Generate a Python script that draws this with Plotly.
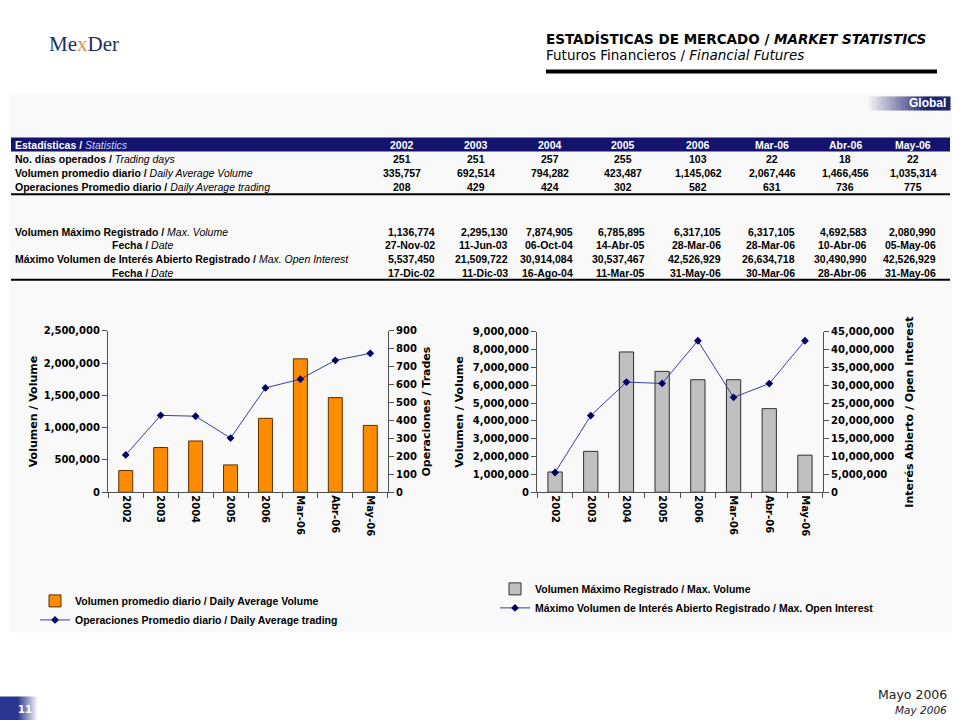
import plotly.graph_objects as go

# ---------------- data ----------------
categories = ["2002", "2003", "2004", "2005", "2006", "Mar-06", "Abr-06", "May-06"]
trading_days = [251, 251, 257, 255, 103, 22, 18, 22]
avg_volume = [335757, 692514, 794282, 423487, 1145062, 2067446, 1466456, 1035314]
avg_trades = [208, 429, 424, 302, 582, 631, 736, 775]
max_volume = [1136774, 2295130, 7874905, 6785895, 6317105, 6317105, 4692583, 2080990]
max_volume_date = ["27-Nov-02", "11-Jun-03", "06-Oct-04", "14-Abr-05",
                   "28-Mar-06", "28-Mar-06", "10-Abr-06", "05-May-06"]
max_open_interest = [5537450, 21509722, 30914084, 30537467, 42526929, 26634718, 30490990, 42526929]
max_oi_date = ["17-Dic-02", "11-Dic-03", "16-Ago-04", "11-Mar-05",
               "31-May-06", "30-Mar-06", "28-Abr-06", "31-May-06"]

W, H = 960, 727
def X(px): return px / W
def Y(py):
    ly = (py - 5.7) / 0.983
    return 1 - ly / H

NAVY = "#14146e"
LINE_C = "#3c3c9c"
MARK_C = "#000066"
CHART_FONT = "DejaVu Sans, Verdana, sans-serif"
TAB_FONT = "Liberation Sans, Arial, sans-serif"

fig = go.Figure()

fig.add_trace(go.Bar(
    x=categories, y=avg_volume, xaxis="x", yaxis="y", width=0.4,
    marker=dict(color="#FF8C00", line=dict(color="#5a3000", width=1)),
    name="Volumen promedio diario / Daily Average Volume", legend="legend"))
fig.add_trace(go.Scatter(
    x=categories, y=avg_trades, xaxis="x", yaxis="y2", mode="lines+markers",
    line=dict(color=LINE_C, width=1),
    marker=dict(symbol="diamond", size=6, color=MARK_C),
    name="Operaciones Promedio diario / Daily Average trading", legend="legend"))
fig.add_trace(go.Bar(
    x=categories, y=max_volume, xaxis="x2", yaxis="y3", width=0.4,
    marker=dict(color="#C0C0C0", line=dict(color="#303030", width=1)),
    name="Volumen Máximo Registrado / Max. Volume", legend="legend2"))
fig.add_trace(go.Scatter(
    x=categories, y=max_open_interest, xaxis="x2", yaxis="y4", mode="lines+markers",
    line=dict(color=LINE_C, width=1),
    marker=dict(symbol="diamond", size=6, color=MARK_C),
    name="Máximo Volumen de Interés Abierto Registrado / Max. Open Interest", legend="legend2"))

tickfont = dict(family=CHART_FONT, size=10, color="black", weight="bold")
titlefont = dict(family=CHART_FONT, size=11, color="black", weight="bold")
axline = "#505050"

def xax(dom, anchor):
    return dict(domain=dom, anchor=anchor, type="category", tickangle=90,
                ticks="outside", tickson="boundaries", ticklen=5, tickcolor=axline,
                showline=True, linecolor=axline, linewidth=1, showgrid=False,
                tickfont=tickfont, fixedrange=True)

def yax(dom, anchor, rng, dtick, title, side="left", overlaying=None, standoff=6):
    d = dict(domain=dom, anchor=anchor, range=rng, dtick=dtick, tickformat=",d",
             ticks="outside", ticklen=5, tickcolor=axline, showline=True,
             linecolor=axline, linewidth=1, showgrid=False, zeroline=False,
             tickfont=tickfont, side=side, fixedrange=True,
             title=dict(text=title, font=titlefont, standoff=standoff))
    if overlaying:
        d["overlaying"] = overlaying
    return d

ydom1 = [Y(492), Y(331)]
ydom2 = [Y(492), Y(332)]

legfont = dict(family=TAB_FONT, size=10.5, color="black", weight="bold")
layout = dict(
    width=W, height=H, margin=dict(l=0, r=0, t=0, b=0),
    paper_bgcolor="white", plot_bgcolor="rgba(0,0,0,0)",
    bargap=0.6, showlegend=True,
    xaxis=xax([X(108), X(388)], "y"),
    yaxis=yax(ydom1, "x", [0, 2500000], 500000, "Volumen / Volume", standoff=3),
    yaxis2=yax(ydom1, "x", [0, 900], 100, "Operaciones / Trades", side="right", overlaying="y"),
    xaxis2=xax([X(537), X(823)], "y3"),
    yaxis3=yax(ydom2, "x2", [0, 9000000], 1000000, "Volumen / Volume"),
    yaxis4=yax(ydom2, "x2", [0, 45000000], 5000000, "Interés Abierto / Open Interest",
               side="right", overlaying="y3", standoff=12),
    legend=dict(x=X(35), y=Y(586), xanchor="left", yanchor="top",
                bgcolor="rgba(0,0,0,0)", tracegroupgap=0, itemwidth=30, font=legfont),
    legend2=dict(x=X(495), y=Y(574), xanchor="left", yanchor="top",
                 bgcolor="rgba(0,0,0,0)", tracegroupgap=0, itemwidth=30, font=legfont),
)
fig.update_layout(**layout)

shapes = []
# light panel
shapes.append(dict(type="rect", xref="paper", yref="paper", x0=X(10), x1=X(952),
                   y0=Y(632), y1=Y(95), fillcolor="#f9f9f9", line=dict(width=0), layer="below"))
# header thick line
shapes.append(dict(type="line", xref="paper", yref="paper", x0=X(546), x1=X(937),
                   y0=Y(72), y1=Y(72), line=dict(color="black", width=4)))
# Global tab gradient
n = 28
x_start, x_end = 866, 950
c0 = (249, 249, 249)
c1 = (28, 36, 112)
for i in range(n):
    t = i / (n - 1)
    t2 = min(1.0, t * 1.35)
    col = tuple(int(c0[k] + (c1[k] - c0[k]) * t2) for k in range(3))
    xa = x_start + (x_end - x_start) * i / n
    xb = x_start + (x_end - x_start) * (i + 1) / n
    shapes.append(dict(type="rect", xref="paper", yref="paper", x0=X(xa), x1=X(xb) + 0.0005,
                       y0=Y(111), y1=Y(97), fillcolor="rgb(%d,%d,%d)" % col, line=dict(width=0)))
# table header band
shapes.append(dict(type="rect", xref="paper", yref="paper", x0=X(11), x1=X(950),
                   y0=Y(152), y1=Y(138), fillcolor=NAVY, line=dict(width=0)))
# table rules
for yy in (194.5, 280):
    shapes.append(dict(type="line", xref="paper", yref="paper", x0=X(11), x1=X(950),
                       y0=Y(yy), y1=Y(yy), line=dict(color="black", width=2)))
# page number block
shapes.append(dict(type="rect", xref="paper", yref="paper", x0=0, x1=X(17),
                   y0=-0.05, y1=Y(696), fillcolor="#2a3590", line=dict(width=0)))
m = 14
p0 = (42, 53, 144)
p1 = (250, 250, 250)
for i in range(m):
    t = i / (m - 1)
    col = tuple(int(p0[k] + (p1[k] - p0[k]) * t) for k in range(3))
    xa = 17 + 21 * i / m
    xb = 17 + 21 * (i + 1) / m
    shapes.append(dict(type="rect", xref="paper", yref="paper", x0=X(xa), x1=X(xb) + 0.0005,
                       y0=-0.05, y1=Y(696), fillcolor="rgb(%d,%d,%d)" % col, line=dict(width=0)))

ann = []
def A(text, x, y, size=10, family=TAB_FONT, color="black", xanchor="center", weight=None):
    f = dict(family=family, size=size, color=color)
    if weight:
        f["weight"] = weight
    ann.append(dict(text=text, x=X(x), y=Y(y), xref="paper", yref="paper",
                    showarrow=False, xanchor=xanchor, yanchor="middle", font=f))

# logo
A("Me<span style='color:#d09a52'>x</span>Der", 47, 45, size=21,
  family="Liberation Serif, serif", color="#1b2f63", xanchor="left")
# titles
A("<b>ESTADÍSTICAS DE MERCADO / <i>MARKET STATISTICS</i></b>", 544, 40, size=13.5,
  family="DejaVu Sans, sans-serif", xanchor="left")
A("Futuros Financieros / <i>Financial Futures</i>", 544, 56, size=13.5,
  family="DejaVu Sans, sans-serif", xanchor="left")
A("<b>Global</b>", 948, 104, size=12, family="Liberation Sans, Arial", color="white",
  xanchor="right")

# table header
A("<b>Estadísticas / </b><span style='color:#d0d0ff'><i>Statistics</i></span>", 13, 145.5,
  size=10.5, color="white", xanchor="left")
col_centers = [402, 476, 550, 623, 698, 772, 845, 913]
col_rights = [437, 510, 575, 647, 723, 797, 869, 938]
for c, cx in zip(categories, col_centers):
    A("<b>%s</b>" % c, cx, 145.5, size=10.5, color="white")

# row labels
A("<b>No. días operados / </b><i>Trading days</i>", 13, 159, size=10.5, xanchor="left")
A("<b>Volumen promedio diario / </b><i>Daily Average Volume</i>", 13, 173, size=10.5, xanchor="left")
A("<b>Operaciones Promedio diario / </b><i>Daily Average trading</i>", 13, 187, size=10.5, xanchor="left")
A("<b>Volumen Máximo Registrado / </b><i>Max. Volume</i>", 13, 232, size=10.5, xanchor="left")
A("<b>Fecha / </b><i>Date</i>", 110, 245, size=10.5, xanchor="left")
A("<b>Máximo Volumen de Interés Abierto Registrado / </b><i>Max. Open Interest</i>", 13, 259,
  size=10.5, xanchor="left")
A("<b>Fecha / </b><i>Date</i>", 110, 273, size=10.5, xanchor="left")

for i in range(len(categories)):
    cx = col_centers[i]
    rx = col_rights[i]
    A("<b>%d</b>" % trading_days[i], cx, 159, size=10.5)
    A("<b>{:,}</b>".format(avg_volume[i]), cx, 173, size=10.5)
    A("<b>{:,}</b>".format(avg_trades[i]), cx, 187, size=10.5)
    A("<b>{:,}</b>".format(max_volume[i]), rx, 232, size=10.5, xanchor="right")
    A("<b>%s</b>" % max_volume_date[i], rx, 245, size=10.5, xanchor="right")
    A("<b>{:,}</b>".format(max_open_interest[i]), rx, 259, size=10.5, xanchor="right")
    A("<b>%s</b>" % max_oi_date[i], rx, 273, size=10.5, xanchor="right")

# footer
A("Mayo 2006", 949, 694, size=12.5, family="DejaVu Sans, sans-serif", color="#222", xanchor="right")
A("<i>May 2006</i>", 949, 709, size=10.5, family="DejaVu Sans, sans-serif", color="#222", xanchor="right")
A("<b>11</b>", 25, 709, size=10, family="DejaVu Sans, sans-serif", color="white")

fig.update_layout(shapes=shapes, annotations=ann)
fig.write_html("out.html", config={"displayModeBar": False},
               post_script="document.body.style.margin='0';document.body.style.padding='0';"
                           "document.body.style.overflow='hidden';")
